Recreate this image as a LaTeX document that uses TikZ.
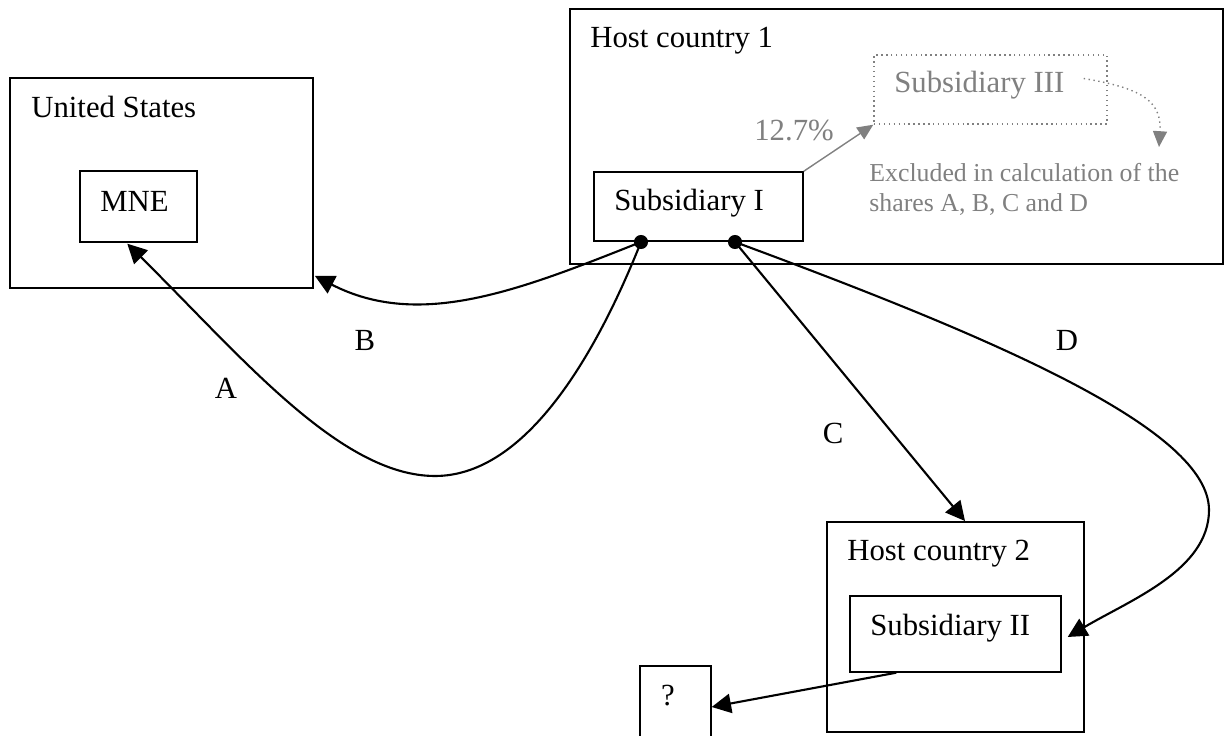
\documentclass[tikz,border=0pt]{standalone}
\usepackage{fontspec}
\setmainfont{Liberation Serif}
\usetikzlibrary{arrows.meta,fit,calc}
\definecolor{softgrey}{RGB}{128,128,128}

\begin{document}
\begin{tikzpicture}[x=0.02cm, y=-0.02cm,
  country/.style={draw, line width=1.1pt, inner sep=0pt},
  firm/.style={draw, line width=0.8pt, inner sep=0pt},
  boxtext/.style={anchor=base west, inner sep=0pt, font=\fontsize{17.5}{21}\selectfont},
  share/.style={inner sep=0pt, font=\fontsize{17.5}{21}\selectfont},
  note/.style={anchor=base west, inner sep=0pt, text=softgrey, font=\fontsize{14.7}{17}\selectfont},
  flow/.style={line width=1.2pt, -{Triangle[length=11pt,width=11pt]}},
  link/.style={draw=softgrey, line width=0.8pt, -{Triangle[length=9pt,width=8pt,fill=softgrey]}},
  pt/.style={circle, fill, inner sep=0pt, minimum size=8pt}]
\useasboundingbox (0,0) rectangle (1225,736);
% countries and firms
\node[country, fit={(10,78) (313,288)}] (us) {};
\node[boxtext] (ustext) at (31,118) {United States};
\node[firm, fit={(80,171) (197,242)}] (mnebox) {};
\node[boxtext] (mne) at (100,212) {MNE};
\node[country, fit={(570,9) (1223,264)}] (hc1) {};
\node[boxtext] (hc1text) at (590,48) {Host country 1};
\node[firm, dotted, draw=softgrey, fit={(874,55) (1107,124)}] (subIII) {};
\node[boxtext, text=softgrey] (subIIItext) at (894,93) {Subsidiary III};
\node[boxtext, text=softgrey] (pct) at (754,141) {12.7\%};
\node[note] (excl1) at (869,182) {Excluded in calculation of the};
\node[note] (excl2) at (869,212) {shares A, B, C and D};
\node[firm, fit={(594,172) (803,241)}] (subI) {};
\node[boxtext] (subItext) at (614,211) {Subsidiary I};
\node[country, fit={(827,522) (1084,732)}] (hc2) {};
\node[boxtext] (hc2text) at (847,561) {Host country 2};
\node[firm, fit={(850,596) (1061,672)}] (subII) {};
\node[boxtext] (subIItext) at (870,636) {Subsidiary II};
\node[firm, fit={(640,666) (711,748)}] (qbox) {};
\node[share, anchor=base] (q) at (668,705) {?};
% ownership links
\node[pt] (dotab) at (641,242) {};
\node[pt] (dotcd) at (735,242) {};
\coordinate (excl) at (1159,147);
\draw[link] (subI.north east) -- (subIII.south west);
\draw[link, dotted] ($(subIII.east)+(-24,-11)$) .. controls (1140,88) and (1162,100) .. (excl);
\draw[flow] (dotab.center) .. controls (520,290) and (420,330) .. ($(us.south east)+(1,-13)$);
\draw[flow] (dotab.center) .. controls (590,370) and (520,476) .. (435,476)
  .. controls (340,476) and (240,355) .. ($(mnebox.south west)+(48,1)$);
\draw[flow] (dotcd.center) -- ($(hc2.north west)+(139,0)$);
\draw[flow] (dotcd.center) .. controls (1000,340) and (1209,430) .. (1209,510)
  .. controls (1209,570) and (1130,600) .. ($(subII.east)+(6,3)$);
\draw[flow] ($(subII.south west)+(47,0)$) -- (qbox.east);
% shares
\node[share] (labA) at (226,388) {A};
\node[share] (labB) at (365,340) {B};
\node[share] (labC) at (833,433) {C};
\node[share] (labD) at (1067,340) {D};
\end{tikzpicture}
\end{document}
